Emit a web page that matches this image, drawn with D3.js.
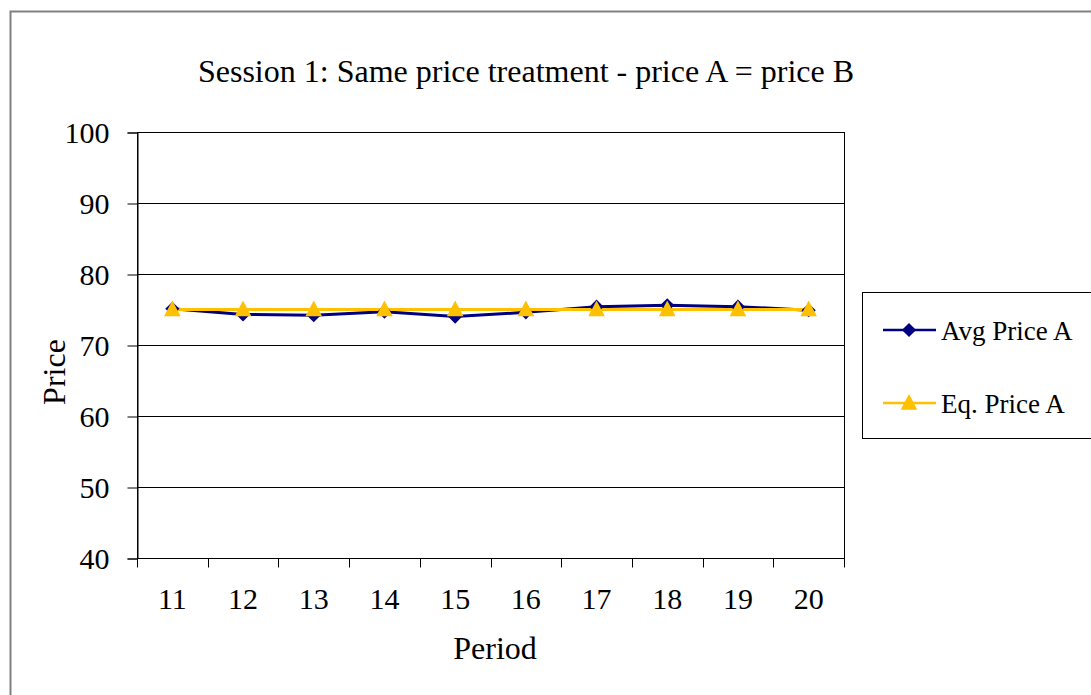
<!DOCTYPE html>
<html>
<head>
<meta charset="utf-8">
<script src="https://cdn.jsdelivr.net/npm/d3@7/dist/d3.min.js"></script>
<style>
  html, body { margin: 0; padding: 0; background: #fff; }
  svg text { font-family: "Liberation Serif", "Times New Roman", serif; fill: #000; }
</style>
</head>
<body>
<svg id="chart" width="1091" height="695"></svg>
<script>
const periods = [11, 12, 13, 14, 15, 16, 17, 18, 19, 20];
const avgPriceA = [75.1, 74.3, 74.2, 74.7, 74.0, 74.6, 75.4, 75.6, 75.4, 74.9];
const eqPriceA = [75, 75, 75, 75, 75, 75, 75, 75, 75, 75];
const yTicks = [40, 50, 60, 70, 80, 90, 100];
const seriesNames = ["Avg Price A", "Eq. Price A"];
const seriesColors = ["#000080", "#FFC000"];

const svg = d3.select("#chart");

// outer chart frame
svg.append("rect")
  .attr("x", 10.5).attr("y", 11.5)
  .attr("width", 1200).attr("height", 800)
  .attr("fill", "#fff").attr("stroke", "#808080").attr("stroke-width", 2);

const plot = { left: 137, top: 132, right: 844, bottom: 558 };

const x = d3.scaleBand().domain(periods).range([plot.left, plot.right]);
const y = d3.scaleLinear().domain([40, 100]).range([plot.bottom, plot.top]);
const cx = d => x(d) + x.bandwidth() / 2;

// plot area
svg.append("rect")
  .attr("x", plot.left + 0.5).attr("y", plot.top + 0.5)
  .attr("width", plot.right - plot.left).attr("height", plot.bottom - plot.top)
  .attr("fill", "#fff").attr("stroke", "#000").attr("stroke-width", 1);

// horizontal gridlines
svg.append("g")
  .selectAll("line")
  .data(yTicks.filter(t => t > 40 && t < 100))
  .join("line")
  .attr("x1", plot.left).attr("x2", plot.right)
  .attr("y1", d => Math.round(y(d)) + 0.5).attr("y2", d => Math.round(y(d)) + 0.5)
  .attr("stroke", "#000").attr("stroke-width", 1);

// y axis
const yAxis = svg.append("g")
  .attr("transform", `translate(${plot.left + 0.5},0.5)`)
  .call(d3.axisLeft(y).tickValues(yTicks).tickSize(10).tickPadding(18).tickFormat(d3.format("d")));
yAxis.select(".domain").attr("stroke", "#000");
yAxis.selectAll(".tick line").attr("stroke", "#000");
yAxis.selectAll("text").style("font-size", "30px").attr("fill", "#000").attr("dy", "0.34em")
  .style("font-family", "Liberation Serif, Times New Roman, serif");

// x axis: ticks at category boundaries
const xAxisG = svg.append("g").attr("transform", `translate(0,${plot.bottom + 0.5})`);
xAxisG.append("line")
  .attr("x1", plot.left).attr("x2", plot.right)
  .attr("stroke", "#000");
const boundaries = periods.map(p => x(p)).concat([plot.right]);
xAxisG.selectAll("line.tk")
  .data(boundaries)
  .join("line").attr("class", "tk")
  .attr("x1", d => Math.round(d) + 0.5).attr("x2", d => Math.round(d) + 0.5)
  .attr("y1", 0).attr("y2", 9)
  .attr("stroke", "#000");
xAxisG.selectAll("text")
  .data(periods)
  .join("text")
  .attr("x", d => cx(d))
  .attr("y", 50)
  .attr("text-anchor", "middle")
  .style("font-size", "30px")
  .text(d => d);

// titles
svg.append("text")
  .attr("x", 526).attr("y", 82)
  .attr("text-anchor", "middle")
  .style("font-size", "32px")
  .text("Session 1: Same price treatment - price A = price B");

svg.append("text")
  .attr("x", 495).attr("y", 659)
  .attr("text-anchor", "middle")
  .style("font-size", "32px")
  .text("Period");

svg.append("text")
  .attr("transform", "translate(65,372) rotate(-90)")
  .attr("text-anchor", "middle")
  .style("font-size", "32px")
  .text("Price");

// series
const line = d3.line().x((d, i) => cx(periods[i])).y(d => y(d));
const diamond = d3.symbol().type(d3.symbolSquare).size(100);
const triangle = d3.symbol().type(d3.symbolTriangle).size(120);

svg.append("path")
  .datum(avgPriceA)
  .attr("d", line)
  .attr("fill", "none").attr("stroke", seriesColors[0]).attr("stroke-width", 3);
svg.append("path")
  .datum(eqPriceA)
  .attr("d", line)
  .attr("fill", "none").attr("stroke", seriesColors[1]).attr("stroke-width", 3);

svg.append("g").selectAll("path")
  .data(avgPriceA)
  .join("path")
  .attr("transform", (d, i) => `translate(${cx(periods[i])},${y(d)}) rotate(45)`)
  .attr("d", diamond())
  .attr("fill", seriesColors[0]);

svg.append("g").selectAll("path")
  .data(eqPriceA)
  .join("path")
  .attr("transform", (d, i) => `translate(${cx(periods[i])},${y(d) + 1.5}) scale(1,1.1)`)
  .attr("d", triangle())
  .attr("fill", seriesColors[1]);

// legend
const legend = svg.append("g");
legend.append("rect")
  .attr("x", 862.5).attr("y", 292.5)
  .attr("width", 300).attr("height", 146)
  .attr("fill", "#fff").attr("stroke", "#000").attr("stroke-width", 1);

const legendRows = [
  { name: seriesNames[0], color: seriesColors[0], sym: diamond, tf: "rotate(45)", dy: 0, y: 330 },
  { name: seriesNames[1], color: seriesColors[1], sym: triangle, tf: "scale(1,1.1)", dy: 1.5, y: 403 }
];
const rows = legend.selectAll("g.row").data(legendRows).join("g").attr("class", "row");
rows.append("line")
  .attr("x1", 883).attr("x2", 936)
  .attr("y1", d => d.y).attr("y2", d => d.y)
  .attr("stroke", d => d.color).attr("stroke-width", 2.5);
rows.append("path")
  .attr("transform", d => `translate(909,${d.y + d.dy}) ${d.tf}`)
  .attr("d", d => d.sym())
  .attr("fill", d => d.color);
rows.append("text")
  .attr("x", 941).attr("y", d => d.y + 10)
  .style("font-size", "27px")
  .text(d => d.name);
</script>
</body>
</html>
